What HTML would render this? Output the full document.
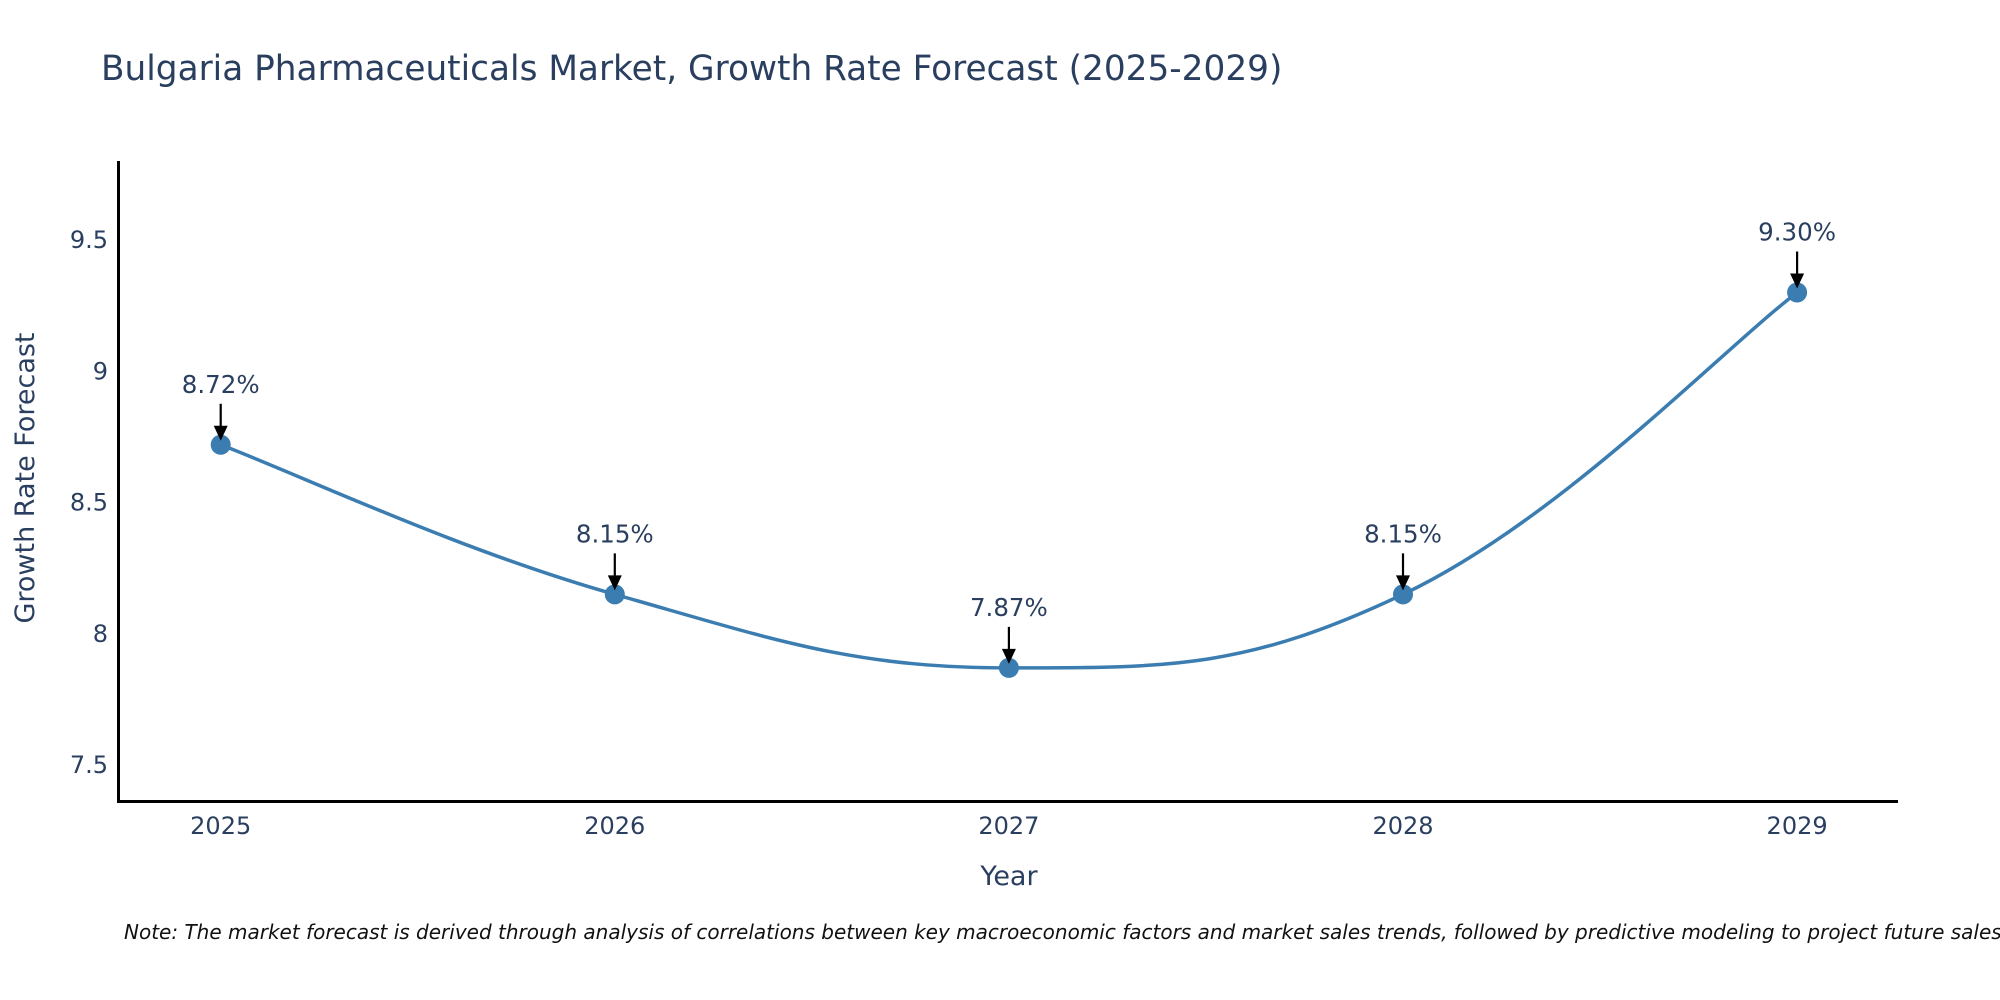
<!DOCTYPE html>
<html><head><meta charset="utf-8"><style>
html,body{margin:0;padding:0;background:#fff;}
svg{display:block;font-family:"DejaVu Sans","Liberation Sans",sans-serif;}
</style></head><body>
<svg id="chart" width="2000" height="1000" viewBox="0 0 2000 1000">
<text x="101" y="80" font-size="34.3" fill="#2a3f5f">Bulgaria Pharmaceuticals Market, Growth Rate Forecast (2025-2029)</text>
<g id="yticks"></g><g id="xticks"></g>
<line x1="118.5" y1="161" x2="118.5" y2="802" stroke="#000" stroke-width="3"/>
<line x1="117" y1="801.5" x2="1898" y2="801.5" stroke="#000" stroke-width="3"/>
<text transform="translate(34,478) rotate(-90)" text-anchor="middle" font-size="27" fill="#2a3f5f">Growth Rate Forecast</text>
<text x="1009" y="885" text-anchor="middle" font-size="27" fill="#2a3f5f">Year</text>
<g id="series"></g>
<text x="124" y="939" font-size="20" font-style="italic" fill="#111">Note: The market forecast is derived through analysis of correlations between key macroeconomic factors and market sales trends, followed by predictive modeling to project future sales.</text>
</svg>
<script>
const years = [2025, 2026, 2027, 2028, 2029];
const growth = [8.72, 8.15, 7.87, 8.15, 9.30];
const yTicks = [7.5, 8, 8.5, 9, 9.5];
const yTickLabels = ["7.5", "8", "8.5", "9", "9.5"];
const NS = "http://www.w3.org/2000/svg";
function xs(v){ return 220.7 + (v - 2025) * 394.1; }
function ys(v){ return 765 - (v - 7.5) * 262.5; }
function mk(tag, attrs, parent){ const e=document.createElementNS(NS,tag); for(const k in attrs) e.setAttribute(k,attrs[k]); parent.appendChild(e); return e; }
const yg=document.getElementById('yticks'), xg=document.getElementById('xticks'), sg=document.getElementById('series');
yTicks.forEach((t,i)=>{
  const el=mk('text',{x:108,y:ys(t)+8,'text-anchor':'end','font-size':24,fill:'#2a3f5f'},yg);
  el.textContent=yTickLabels[i];
  
  
});
years.forEach(y=>{
  const el=mk('text',{x:xs(y),y:834,'text-anchor':'middle','font-size':24,fill:'#2a3f5f'},xg);
  el.textContent=String(y);
  
  
});
const pts=years.map((y,i)=>[xs(y),ys(growth[i])]);
let d='M'+pts[0][0]+','+pts[0][1];
const s=0.2;
for(let i=0;i<pts.length-1;i++){
  const p0=pts[Math.max(i-1,0)],p1=pts[i],p2=pts[i+1],p3=pts[Math.min(i+2,pts.length-1)];
  const c1=[p1[0]+(p2[0]-p0[0])*s,p1[1]+(p2[1]-p0[1])*s];
  const c2=[p2[0]-(p3[0]-p1[0])*s,p2[1]-(p3[1]-p1[1])*s];
  d+=' C'+c1+' '+c2+' '+p2;
}
const line=mk('path',{d:d,fill:'none',stroke:'#3b7db1','stroke-width':3.5},sg);


pts.forEach((p,i)=>{
  const c=mk('circle',{cx:p[0],cy:p[1],r:10,fill:'#3b7db1'},sg);
  
  
  const a=mk('line',{x1:p[0],y1:p[1]-41,x2:p[0],y2:p[1]-18,stroke:'#000','stroke-width':2.2},sg);
  
  
  const h=mk('polygon',{points:(p[0]-7)+','+(p[1]-19)+' '+(p[0]+7)+','+(p[1]-19)+' '+p[0]+','+(p[1]-4),fill:'#000'},sg);
  
  
  const t=mk('text',{x:p[0],y:p[1]-52,'text-anchor':'middle','font-size':24.5,fill:'#2a3f5f'},sg);
  t.textContent=growth[i].toFixed(2)+'%';
  
  
});
</script>
</body></html>
